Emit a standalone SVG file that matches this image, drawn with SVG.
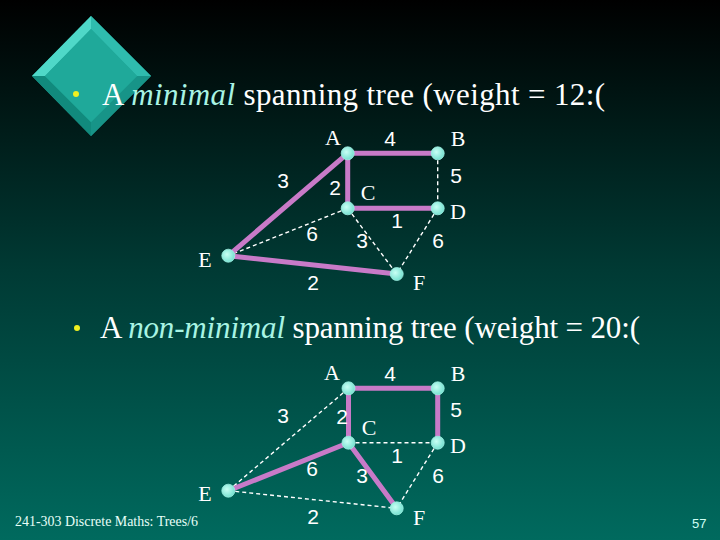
<svg xmlns="http://www.w3.org/2000/svg" width="720" height="540" viewBox="0 0 720 540">
<defs>
<linearGradient id="bg" x1="0" y1="0" x2="0" y2="1">
<stop offset="0" stop-color="#000000"/>
<stop offset="0.5" stop-color="#003a34"/>
<stop offset="1" stop-color="#006a5e"/>
</linearGradient>
<radialGradient id="nodeFill" cx="0.4" cy="0.4" r="0.6">
<stop offset="0" stop-color="#c8fff4"/>
<stop offset="1" stop-color="#78e2d2"/>
</radialGradient>
<style>
.title{font-family:"Liberation Serif","Times New Roman",serif;font-size:31px;fill:#ffffff}
.em{font-style:italic;fill:#a8f4e4}
.nl{font-family:"Liberation Serif","Times New Roman",serif;font-size:22px;fill:#ffffff;text-anchor:middle}
.wl{font-family:"Liberation Sans",Arial,sans-serif;font-size:21px;fill:#ffffff;text-anchor:middle}
.tree{stroke:#c87ac8;stroke-width:5;stroke-linecap:round;fill:none}
.dash{stroke:#ffffff;stroke-width:1.4;stroke-dasharray:4 3;fill:none}
.node{fill:url(#nodeFill);stroke:#9ef0e2;stroke-width:0.8}
.foot{font-family:"Liberation Serif","Times New Roman",serif;font-size:14px;fill:#e8fff8}
.num{font-family:"Liberation Sans",Arial,sans-serif;font-size:13px;fill:#d0fff4}
</style>
</defs>
<rect x="0" y="0" width="720" height="540" fill="url(#bg)"/>

<g id="diamond">
<polygon points="91,16 151,76 91,136 32,76" fill="#1fa596"/>
<polygon points="91,16 91,29 45,76 32,76" fill="#4fd8c8"/>
<polygon points="91,16 151,76 137,76 91,29" fill="#2fbcae"/>
<polygon points="32,76 45,76 91,122 91,136" fill="#118a7d"/>
<polygon points="151,76 91,136 91,122 137,76" fill="#179488"/>
<polygon points="91,29 137,76 91,122 45,76" fill="#1fa99a"/>
</g>

<g id="bullet1">
<circle cx="76" cy="94" r="3" fill="#f0f020"/>
<text class="title" x="102" y="105" textLength="503" lengthAdjust="spacing">A <tspan class="em">minimal</tspan> spanning tree (weight = 12:(</text>
</g>

<g id="bullet2">
<circle cx="77" cy="328" r="3" fill="#f0f020"/>
<text class="title" x="100" y="338" textLength="540" lengthAdjust="spacing">A <tspan class="em">non-minimal</tspan> spanning tree (weight = 20:(</text>
</g>

<g id="connectors">
<!-- graph 1 -->
<line class="dash" x1="437.7" y1="153.3" x2="437.7" y2="208.3"/>
<line class="dash" x1="347.7" y1="208.3" x2="228.3" y2="255.7"/>
<line class="dash" x1="347.7" y1="208.3" x2="396.7" y2="274"/>
<line class="dash" x1="437.7" y1="208.3" x2="396.7" y2="274"/>
<line class="tree" x1="347.7" y1="153.3" x2="437.7" y2="153.3"/>
<line class="tree" x1="347.7" y1="153.3" x2="347.7" y2="208.3"/>
<line class="tree" x1="347.7" y1="208.3" x2="437.7" y2="208.3"/>
<line class="tree" x1="347.7" y1="153.3" x2="228.3" y2="255.7"/>
<line class="tree" x1="228.3" y1="255.7" x2="396.7" y2="274"/>
<!-- graph 2 -->
<line class="dash" x1="348.5" y1="388.3" x2="228.3" y2="490.7"/>
<line class="dash" x1="348.5" y1="442.7" x2="437.7" y2="442.7"/>
<line class="dash" x1="228.3" y1="490.7" x2="396.7" y2="508.3"/>
<line class="dash" x1="437.7" y1="442.7" x2="396.7" y2="508.3"/>
<line class="tree" x1="348.5" y1="388.3" x2="437.7" y2="388.3"/>
<line class="tree" x1="348.5" y1="388.3" x2="348.5" y2="442.7"/>
<line class="tree" x1="437.7" y1="388.3" x2="437.7" y2="442.7"/>
<line class="tree" x1="348.5" y1="442.7" x2="228.3" y2="490.7"/>
<line class="tree" x1="348.5" y1="442.7" x2="396.7" y2="508.3"/>
</g>

<g id="g1-A"><circle class="node" cx="347.7" cy="153.3" r="6.5"/><text class="nl" x="333" y="145">A</text></g>
<g id="g1-B"><circle class="node" cx="437.7" cy="153.3" r="6.5"/><text class="nl" x="458" y="146">B</text></g>
<g id="g1-C"><circle class="node" cx="347.7" cy="208.3" r="6.5"/><text class="nl" x="368" y="200">C</text></g>
<g id="g1-D"><circle class="node" cx="437.7" cy="208.3" r="6.5"/><text class="nl" x="458" y="219">D</text></g>
<g id="g1-E"><circle class="node" cx="228.3" cy="255.7" r="6.5"/><text class="nl" x="205" y="267">E</text></g>
<g id="g1-F"><circle class="node" cx="396.7" cy="274" r="6.5"/><text class="nl" x="419" y="290">F</text></g>
<g id="g1-weights">
<text class="wl" x="390" y="146">4</text>
<text class="wl" x="283" y="188">3</text>
<text class="wl" x="335" y="195">2</text>
<text class="wl" x="456" y="183">5</text>
<text class="wl" x="397" y="228">1</text>
<text class="wl" x="312" y="241">6</text>
<text class="wl" x="362" y="248">3</text>
<text class="wl" x="438" y="248">6</text>
<text class="wl" x="313" y="290">2</text>
</g>

<g id="g2-A"><circle class="node" cx="348.5" cy="388.3" r="6.5"/><text class="nl" x="332" y="380">A</text></g>
<g id="g2-B"><circle class="node" cx="437.7" cy="388.3" r="6.5"/><text class="nl" x="458" y="381">B</text></g>
<g id="g2-C"><circle class="node" cx="348.5" cy="442.7" r="6.5"/><text class="nl" x="369" y="435">C</text></g>
<g id="g2-D"><circle class="node" cx="437.7" cy="442.7" r="6.5"/><text class="nl" x="458" y="453">D</text></g>
<g id="g2-E"><circle class="node" cx="228.3" cy="490.7" r="6.5"/><text class="nl" x="205" y="501">E</text></g>
<g id="g2-F"><circle class="node" cx="396.7" cy="508.3" r="6.5"/><text class="nl" x="419" y="525">F</text></g>
<g id="g2-weights">
<text class="wl" x="390" y="381">4</text>
<text class="wl" x="283" y="423">3</text>
<text class="wl" x="342" y="424">2</text>
<text class="wl" x="456" y="417">5</text>
<text class="wl" x="397" y="463">1</text>
<text class="wl" x="312" y="476">6</text>
<text class="wl" x="362" y="483">3</text>
<text class="wl" x="438" y="483">6</text>
<text class="wl" x="313" y="524">2</text>
</g>

<g id="footer">
<text class="foot" x="15" y="526" textLength="183" lengthAdjust="spacingAndGlyphs">241-303 Discrete Maths: Trees/6</text>
<text class="num" x="692" y="528">57</text>
</g>
</svg>
